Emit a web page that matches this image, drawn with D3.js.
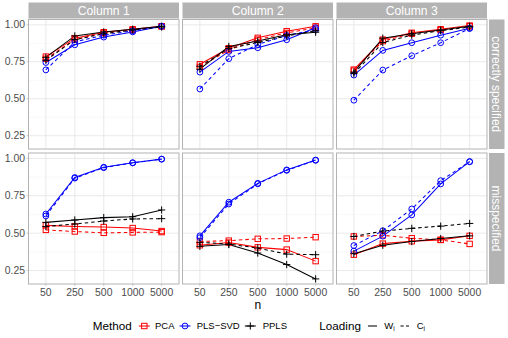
<!DOCTYPE html>
<html><head><meta charset="utf-8">
<script src="https://cdn.jsdelivr.net/npm/d3@7"></script>
<style>body{margin:0;background:#fff}svg{display:block;font-family:"Liberation Sans",Arial,sans-serif}</style>
</head><body><svg id="c" width="508" height="338"></svg>
<script>
// ---- data ----
const nLabels = ["50","250","500","1000","5000"];
const columns = ["Column 1","Column 2","Column 3"];
const rowLabels = ["correctly specified","misspecified"];
const methods = ["PCA","PLS\u2212SVD","PPLS"];
const loadings = ["W","C"];
const yTicks = [0.25,0.50,0.75,1.00];
const yMinor = [0.375,0.625,0.875];

// each array: one series per panel, panels in order
// [row1-col1, row1-col2, row1-col3, row2-col1, row2-col2, row2-col3]
const PCA_W = [
  [0.785,0.91,0.95,0.97,0.99],[0.733,0.842,0.912,0.957,0.99],[0.697,0.90,0.946,0.97,0.995],
  [0.552,0.545,0.541,0.534,0.514],[0.419,0.437,0.405,0.39,0.313],[0.356,0.43,0.446,0.455,0.482]];
const PCA_C = [
  [0.77,0.90,0.945,0.965,0.99],[0.715,0.83,0.90,0.945,0.98],[0.69,0.89,0.94,0.965,0.99],
  [0.522,0.511,0.502,0.505,0.507],[0.444,0.45,0.462,0.464,0.473],[0.478,0.486,0.466,0.455,0.428]];
const PLS_W = [
  [0.745,0.865,0.917,0.952,0.99],[0.68,0.82,0.845,0.899,0.98],[0.66,0.827,0.879,0.93,0.977],
  [0.628,0.872,0.941,0.971,0.995],[0.482,0.707,0.833,0.923,0.989],[0.38,0.48,0.622,0.829,0.978]];
const PLS_C = [
  [0.695,0.885,0.93,0.96,0.99],[0.566,0.771,0.867,0.928,0.968],[0.49,0.694,0.791,0.879,0.975],
  [0.615,0.868,0.938,0.97,0.995],[0.47,0.695,0.83,0.92,0.987],[0.417,0.516,0.662,0.851,0.978]];
const PPLS_W = [
  [0.78,0.925,0.952,0.97,0.99],[0.70,0.854,0.89,0.933,0.95],[0.68,0.91,0.94,0.965,0.99],
  [0.572,0.588,0.604,0.61,0.655],[0.412,0.424,0.367,0.29,0.194],[0.363,0.419,0.444,0.464,0.482]];
const PPLS_C = [
  [0.76,0.90,0.94,0.965,0.985],[0.72,0.84,0.88,0.925,0.96],[0.67,0.88,0.93,0.96,0.985],
  [0.545,0.561,0.581,0.595,0.597],[0.439,0.427,0.40,0.36,0.356],[0.478,0.514,0.532,0.547,0.565]];

const seriesList = [
  {m:0,l:0,v:PCA_W},{m:0,l:1,v:PCA_C},
  {m:1,l:0,v:PLS_W},{m:1,l:1,v:PLS_C},
  {m:2,l:0,v:PPLS_W},{m:2,l:1,v:PPLS_C}];

// ---- layout ----
const colors = ["#FF0000","#0000FF","#000000"];
const svg = d3.select("#c");
const panelX = [[28.5,179],[182.5,333],[336.5,487]];
const panelY = [[19.5,149],[153,284]];
const grid = "#e3e3e3", border = "#b3b3b3", stripFill = "#b3b3b3", axisText = "#4d4d4d";

function shape(g, m, x, y, col){
  if(m===0){
    g.append("rect").attr("x",x-2.7).attr("y",y-2.7).attr("width",5.4).attr("height",5.4)
     .attr("fill","none").attr("stroke",col).attr("stroke-width",1);
  } else if(m===1){
    g.append("circle").attr("cx",x).attr("cy",y).attr("r",2.9)
     .attr("fill","none").attr("stroke",col).attr("stroke-width",1);
  } else {
    g.append("path").attr("d",`M${x-3.6},${y}H${x+3.6}M${x},${y-3.6}V${y+3.6}`)
     .attr("stroke",col).attr("stroke-width",1).attr("fill","none");
  }
}

for(let r=0;r<2;r++){
  for(let c=0;c<3;c++){
    const pi = r*3+c;
    const [x0,x1] = panelX[c], [y0,y1] = panelY[r];
    const x = d3.scalePoint().domain(nLabels).range([x0,x1]).padding(0.6);
    const y = d3.scaleLinear().domain([0.16,1.036]).range([y1,y0]);
    const g = svg.append("g");
    g.append("rect").attr("x",x0).attr("y",y0).attr("width",x1-x0).attr("height",y1-y0).attr("fill","#fff");
    // grid
    yMinor.forEach(t=>g.append("line").attr("x1",x0).attr("x2",x1).attr("y1",y(t)).attr("y2",y(t))
      .attr("stroke","#f0f0f0").attr("stroke-width",0.5));
    yTicks.forEach(t=>g.append("line").attr("x1",x0).attr("x2",x1).attr("y1",y(t)).attr("y2",y(t))
      .attr("stroke",grid).attr("stroke-width",0.8));
    nLabels.forEach(t=>g.append("line").attr("y1",y0).attr("y2",y1).attr("x1",x(t)).attr("x2",x(t))
      .attr("stroke",grid).attr("stroke-width",0.8));
    // lines
    const line = d3.line().x((d,i)=>x(nLabels[i])).y(d=>y(d));
    seriesList.forEach(s=>{
      g.append("path").attr("d",line(s.v[pi])).attr("fill","none")
       .attr("stroke",colors[s.m]).attr("stroke-width",1.05)
       .attr("stroke-dasharray", s.l===1 ? "3.5,3" : null);
    });
    seriesList.forEach(s=>{
      s.v[pi].forEach((v,i)=>shape(g,s.m,x(nLabels[i]),y(v),colors[s.m]));
    });
    // border
    g.append("rect").attr("x",x0).attr("y",y0).attr("width",x1-x0).attr("height",y1-y0)
      .attr("fill","none").attr("stroke",border).attr("stroke-width",1);
    // y axis (left column)
    if(c===0){
      yTicks.forEach(t=>{
        g.append("line").attr("x1",x0-2).attr("x2",x0).attr("y1",y(t)).attr("y2",y(t)).attr("stroke",border).attr("stroke-width",0.7);
        g.append("text").attr("x",x0-3.5).attr("y",y(t)).attr("dy","0.35em").attr("text-anchor","end")
         .attr("font-size",10.4).attr("fill",axisText).text(t.toFixed(2));
      });
    }
    // x axis (bottom row)
    if(r===1){
      nLabels.forEach(t=>{
        g.append("line").attr("x1",x(t)).attr("x2",x(t)).attr("y1",y1).attr("y2",y1+2).attr("stroke",border).attr("stroke-width",0.7);
        g.append("text").attr("x",x(t)).attr("y",y1+12).attr("text-anchor","middle")
         .attr("font-size",10.4).attr("fill",axisText).text(t);
      });
    }
    // top strip
    if(r===0){
      svg.append("rect").attr("x",x0).attr("y",2.5).attr("width",x1-x0).attr("height",16).attr("fill",stripFill);
      svg.append("text").attr("x",(x0+x1)/2).attr("y",10.5).attr("dy","0.36em").attr("text-anchor","middle")
        .attr("font-size",12.2).attr("fill","#fff").text(columns[c]);
    }
    // right strip
    if(c===2){
      svg.append("rect").attr("x",489).attr("y",y0).attr("width",15.5).attr("height",y1-y0).attr("fill",stripFill);
      svg.append("text").attr("transform",`translate(496.7,${(y0+y1)/2}) rotate(90)`).attr("dy","0.36em")
        .attr("text-anchor","middle").attr("font-size",12).attr("fill","#fff").text(rowLabels[r]);
    }
  }
}

// axis title
svg.append("text").attr("x",(panelX[0][0]+panelX[2][1])/2).attr("y",309).attr("text-anchor","middle")
  .attr("font-size",12).attr("fill","#000").text("n");

// legend
const ly = 326;
svg.append("text").attr("x",92.7).attr("y",ly).attr("dy","0.36em").attr("font-size",11.7).text("Method");
const mKeys = [144.3,185,250.3], mLab = [155,196.7,262.7];
methods.forEach((m,i)=>{
  svg.append("line").attr("x1",mKeys[i]-5.5).attr("x2",mKeys[i]+5.5).attr("y1",ly).attr("y2",ly)
    .attr("stroke",colors[i]).attr("stroke-width",1.05);
  shape(svg,i,mKeys[i],ly,colors[i]);
  svg.append("text").attr("x",mLab[i]).attr("y",ly).attr("dy","0.36em").attr("font-size",9.5).text(m);
});
svg.append("text").attr("x",319.3).attr("y",ly).attr("dy","0.36em").attr("font-size",11.7).text("Loading");
const lKeys = [[368,377],[400.5,409]], lLab = [384.3,416.7];
loadings.forEach((l,i)=>{
  svg.append("line").attr("x1",lKeys[i][0]).attr("x2",lKeys[i][1]).attr("y1",ly).attr("y2",ly)
    .attr("stroke","#000").attr("stroke-width",1.05).attr("stroke-dasharray", i===1?"3.2,2.3":null);
  const t = svg.append("text").attr("x",lLab[i]).attr("y",ly).attr("dy","0.36em").attr("font-size",9.5);
  t.append("tspan").text(l);
  t.append("tspan").attr("font-size",6.5).attr("dy","0.3em").text("i");
});
</script></body></html>
